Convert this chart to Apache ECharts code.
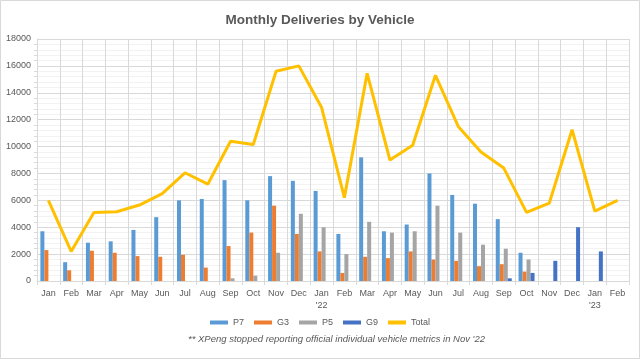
<!DOCTYPE html>
<html>
<head>
<meta charset="utf-8">
<script src="https://cdn.jsdelivr.net/npm/echarts@6/dist/echarts.min.js"></script>
<style>
  html, body { margin: 0; padding: 0; background: #fff; }
  #chart { width: 640px; height: 359px; }
</style>
</head>
<body>
<div id="chart"></div>
<script>
const months = ['Jan', 'Feb', 'Mar', 'Apr', 'May', 'Jun', 'Jul', 'Aug', 'Sep', 'Oct', 'Nov', 'Dec',
  "Jan\n'22", 'Feb', 'Mar', 'Apr', 'May', 'Jun', 'Jul', 'Aug', 'Sep', 'Oct', 'Nov', 'Dec',
  "Jan\n'23", 'Feb']

// deliveries per model
const p7 = [3700, 1400, 2850, 2950, 3800, 4750, 6000, 6100, 7500, 6000, 7800, 7450,
  6700, 3500, 9200, 3700, 4200, 8000, 6400, 5750, 4600, 2100, null, null, null, null]
const g3 = [2300, 800, 2250, 2100, 1850, 1800, 1950, 1000, 2600, 3600, 5600, 3500,
  2200, 600, 1800, 1700, 2200, 1600, 1500, 1100, 1250, 700, null, null, null, null]
const p5 = [null, null, null, null, null, null, null, null, 200, 400, 2100, 5000,
  4000, 2000, 4400, 3600, 3700, 5600, 3600, 2700, 2400, 1600, null, null, null, null]
const g9 = [null, null, null, null, null, null, null, null, null, null, null, null,
  null, null, null, null, null, null, null, null, 200, 600, 1500, 4000, 2200, null]
const total = [6000, 2200, 5100, 5150, 5650, 6500, 8050, 7200, 10400, 10150, 15600, 16000,
  12900, 6200, 15450, 9000, 10100, 15300, 11500, 9600, 8400, 5100, 5800, 11250, 5200, 6000]

const textColor = '#595959'
const gridColor = '#D9D9D9'

function barSeries(name, color, data) {
  return {
    name: name,
    type: 'bar',
    barWidth: 4,
    barGap: '0%',
    itemStyle: { color: color },
    data: data
  }
}

const chart = echarts.init(document.getElementById('chart'))
chart.setOption({
  backgroundColor: '#fff',
  animation: false,
  textStyle: { fontFamily: 'Liberation Sans, sans-serif' },
  title: {
    text: 'Monthly Deliveries by Vehicle',
    left: 'center',
    top: 8,
    textStyle: { color: textColor, fontSize: 13.5, fontWeight: 'bold' }
  },
  graphic: [
    {
      type: 'rect',
      shape: { x: 0.5, y: 0.5, width: 639, height: 358 },
      style: { fill: 'none', stroke: gridColor, lineWidth: 1 },
      silent: true
    },
    {
      type: 'text',
      left: 188,
      top: 334,
      style: {
        text: "** XPeng stopped reporting official individual vehicle metrics in Nov '22",
        fill: textColor,
        font: 'italic 9.5px Liberation Sans, sans-serif'
      }
    }
  ],
  legend: {
    top: 313,
    left: 'center',
    itemWidth: 18,
    itemHeight: 4,
    itemGap: 10,
    textStyle: { color: textColor, fontSize: 9 },
    data: [
      { name: 'P7', icon: 'rect' },
      { name: 'G3', icon: 'rect' },
      { name: 'P5', icon: 'rect' },
      { name: 'G9', icon: 'rect' },
      { name: 'Total', icon: 'rect' }
    ]
  },
  grid: {
    left: 37,
    right: 11,
    top: 39,
    bottom: 78,
    containLabel: false
  },
  xAxis: {
    type: 'category',
    data: months,
    boundaryGap: true,
    axisLine: { lineStyle: { color: gridColor } },
    axisTick: { show: true, length: 4, lineStyle: { color: gridColor } },
    splitLine: { show: true, lineStyle: { color: gridColor } },
    axisLabel: { color: textColor, fontSize: 9, interval: 0, margin: 7, lineHeight: 12 }
  },
  yAxis: {
    type: 'value',
    min: 0,
    max: 18000,
    interval: 2000,
    axisLine: { show: true, lineStyle: { color: gridColor } },
    axisTick: { show: false },
    minorTick: { show: true, splitNumber: 5, length: 3, lineStyle: { color: gridColor } },
    splitLine: { show: true, lineStyle: { color: gridColor } },
    minorSplitLine: { show: true, lineStyle: { color: '#F2F2F2' } },
    axisLabel: {
      color: textColor,
      fontSize: 9,
      margin: 6,
      formatter: function(v) { return String(v) }
    }
  },
  series: [
    barSeries('P7', '#5B9BD5', p7),
    barSeries('G3', '#ED7D31', g3),
    barSeries('P5', '#A5A5A5', p5),
    barSeries('G9', '#4472C4', g9),
    {
      name: 'Total',
      type: 'line',
      symbol: 'none',
      lineStyle: { color: '#FFC000', width: 3 },
      itemStyle: { color: '#FFC000' },
      data: total
    }
  ]
})
</script>
</body>
</html>
